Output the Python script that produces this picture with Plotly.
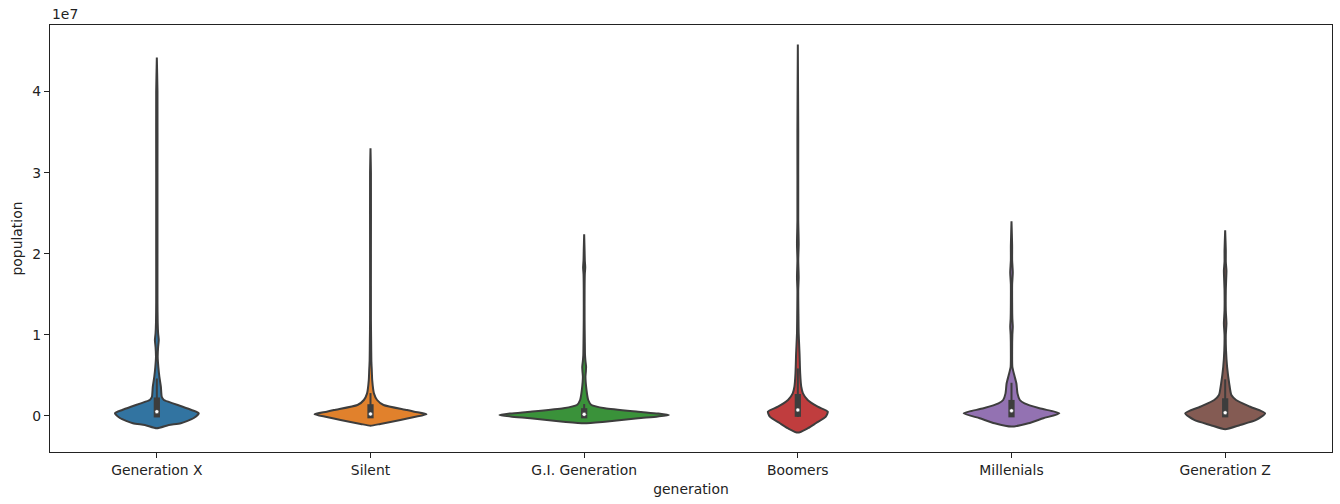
import plotly.graph_objects as go

# ---------------- data ----------------
GENERATIONS = ["Generation X", "Silent", "G.I. Generation", "Boomers", "Millenials", "Generation Z"]
COLORS = ["#3274a1", "#e1812c", "#3a923a", "#c03d3e", "#9372b2", "#845b53"]

# violin outlines: population levels (in 1e7 units) and half-widths of the KDE (category units)
GENX_Y = [-0.151, -0.111, -0.090, -0.025, 0.033, 0.074, 0.114, 0.156, 0.197, 0.237, 0.36, 0.483, 0.606, 0.73, 0.85, 0.934, 1.02, 1.15, 1.4, 2.0, 3.0, 4.0, 4.42]
GENX_W = [0, 0.056, 0.112, 0.173, 0.196, 0.162, 0.121, 0.075, 0.033, 0.023, 0.019, 0.012, 0.007, 0.004, 0.006, 0.009, 0.006, 0.004, 0.003, 0.003, 0.003, 0.003, 0]

SILENT_Y = [-0.119, -0.098, -0.049, -0.012, 0.021, 0.053, 0.074, 0.135, 0.197, 0.279, 0.442, 0.565, 0.688, 0.93, 1.18, 2.0, 3.0, 3.30]
SILENT_W = [0, 0.046, 0.140, 0.205, 0.262, 0.205, 0.171, 0.061, 0.031, 0.016, 0.008, 0.006, 0.004, 0.003, 0.002, 0.002, 0.002, 0]

GI_Y = [-0.090, -0.070, -0.028, -0.006, 0.012, 0.031, 0.053, 0.095, 0.135, 0.197, 0.319, 0.483, 0.55, 0.606, 0.68, 0.75, 0.93, 1.18, 1.55, 1.75, 1.83, 1.92, 2.04, 2.24]
GI_W = [0, 0.098, 0.252, 0.345, 0.397, 0.345, 0.252, 0.097, 0.034, 0.019, 0.011, 0.006, 0.008, 0.009, 0.006, 0.004, 0.003, 0.002, 0.002, 0.003, 0.005, 0.003, 0.002, 0]

BOOMERS_Y = [-0.205, -0.151, -0.09, -0.009, 0.053, 0.114, 0.197, 0.279, 0.36, 0.525, 0.77, 1.016, 1.22, 1.55, 1.71, 1.92, 2.12, 2.41, 3.5, 4.58]
BOOMERS_W = [0, 0.047, 0.084, 0.131, 0.140, 0.093, 0.046, 0.024, 0.016, 0.011, 0.008, 0.004, 0.003, 0.002, 0.004, 0.002, 0.004, 0.002, 0.002, 0]

MILL_Y = [-0.131, -0.09, -0.028, 0.033, 0.095, 0.156, 0.197, 0.279, 0.40, 0.504, 0.606, 0.81, 1.0, 1.10, 1.2, 1.40, 1.62, 1.77, 1.92, 2.1, 2.40]
MILL_W = [0, 0.079, 0.149, 0.224, 0.131, 0.061, 0.039, 0.028, 0.023, 0.013, 0.004, 0.003, 0.004, 0.006, 0.004, 0.003, 0.003, 0.006, 0.003, 0.003, 0]

GENZ_Y = [-0.163, -0.111, -0.049, 0.033, 0.114, 0.197, 0.258, 0.40, 0.606, 0.81, 1.0, 1.14, 1.3, 1.55, 1.70, 1.79, 1.9, 2.04, 2.29]
GENZ_W = [0, 0.070, 0.145, 0.187, 0.117, 0.051, 0.029, 0.019, 0.009, 0.004, 0.003, 0.006, 0.003, 0.003, 0.005, 0.006, 0.003, 0.003, 0]

PROFILES_Y = [GENX_Y, SILENT_Y, GI_Y, BOOMERS_Y, MILL_Y, GENZ_Y]
PROFILES_W = [GENX_W, SILENT_W, GI_W, BOOMERS_W, MILL_W, GENZ_W]

# inner box statistics (1e7 units)
Q1 = [0.020, 0.009, 0.009, 0.028, 0.021, 0.021]
MEDIAN = [0.053, 0.025, 0.020, 0.074, 0.065, 0.040]
Q3 = [0.190, 0.107, 0.058, 0.233, 0.160, 0.180]
WHISK_LO = [0.0003, 0.0003, 0.0003, 0.0003, 0.0003, 0.0003]
WHISK_HI = [0.450, 0.270, 0.135, 0.574, 0.397, 0.440]

Y_TICKS = [0, 1, 2, 3, 4]
Y_TICK_LABELS = ["0", "1", "2", "3", "4"]
SCALE = 1e7

# ---------------- figure ----------------
W, H = 1340, 504
ML, MR, MT, MB = 50, 8, 25, 52
Y_MIN, Y_MAX = -0.444 * SCALE, 4.82 * SCALE
px_per_y = (H - MT - MB) / (Y_MAX - Y_MIN)
GRAY = "#3d3d3d"
TXT = "#222222"
FONT = "DejaVu Sans"
FS = 13.9

fig = go.Figure()

for i, name in enumerate(GENERATIONS):
    ys = [v * SCALE for v in PROFILES_Y[i]]
    ws = PROFILES_W[i]
    xs = [i - w for w in ws] + [i + w for w in reversed(ws)]
    yy = ys + list(reversed(ys))
    fig.add_trace(go.Scatter(
        x=xs, y=yy, mode="lines", fill="toself", fillcolor=COLORS[i],
        line=dict(color=GRAY, width=2, shape="spline", smoothing=0.6),
        hoverinfo="skip", showlegend=False, name=name,
    ))
    cap_w = 1.0 / px_per_y
    fig.add_trace(go.Scatter(
        x=[i, i], y=[WHISK_LO[i] * SCALE - cap_w, WHISK_HI[i] * SCALE + cap_w],
        mode="lines", line=dict(color=GRAY, width=2), hoverinfo="skip", showlegend=False,
    ))
    cap_b = 3.1 / px_per_y
    fig.add_trace(go.Scatter(
        x=[i, i], y=[Q1[i] * SCALE - cap_b, Q3[i] * SCALE + cap_b],
        mode="lines", line=dict(color=GRAY, width=6.25), hoverinfo="skip", showlegend=False,
    ))
    fig.add_trace(go.Scatter(
        x=[i], y=[MEDIAN[i] * SCALE], mode="markers",
        marker=dict(color="white", size=4, line=dict(color=GRAY, width=0.5)),
        hoverinfo="skip", showlegend=False,
    ))

fig.update_layout(
    width=W, height=H,
    margin=dict(l=ML, r=MR, t=MT, b=MB, autoexpand=False),
    paper_bgcolor="white", plot_bgcolor="white",
    font=dict(family=FONT, size=FS, color=TXT),
    showlegend=False,
    xaxis=dict(
        range=[-0.5, 5.5], tickmode="array", tickvals=list(range(len(GENERATIONS))),
        ticktext=GENERATIONS, showgrid=False, zeroline=False, automargin=False,
        showline=True, mirror=True, linecolor=TXT, linewidth=1.1,
        ticks="outside", ticklen=5, tickwidth=1.1, tickcolor=TXT,
        tickfont=dict(family=FONT, size=FS, color=TXT),
        title=dict(text="generation", standoff=7, font=dict(family=FONT, size=FS, color=TXT)),
    ),
    yaxis=dict(
        range=[Y_MIN, Y_MAX], tickmode="array", tickvals=[t * SCALE for t in Y_TICKS],
        ticktext=Y_TICK_LABELS, showgrid=False, zeroline=False, automargin=False,
        showline=True, mirror=True, linecolor=TXT, linewidth=1.1,
        ticks="outside", ticklen=5, tickwidth=1.1, tickcolor=TXT,
        tickfont=dict(family=FONT, size=FS, color=TXT),
        title=dict(text="population", standoff=6, font=dict(family=FONT, size=FS, color=TXT)),
    ),
    annotations=[dict(
        text="1e7", xref="paper", yref="paper", x=0, y=1, xanchor="left", yanchor="bottom",
        showarrow=False, yshift=1, font=dict(family=FONT, size=FS, color=TXT),
    )],
)

fig.write_html(
    "out.html",
    config={"displayModeBar": False},
    post_script="document.body.style.margin='0';document.body.style.overflow='hidden';",
)
